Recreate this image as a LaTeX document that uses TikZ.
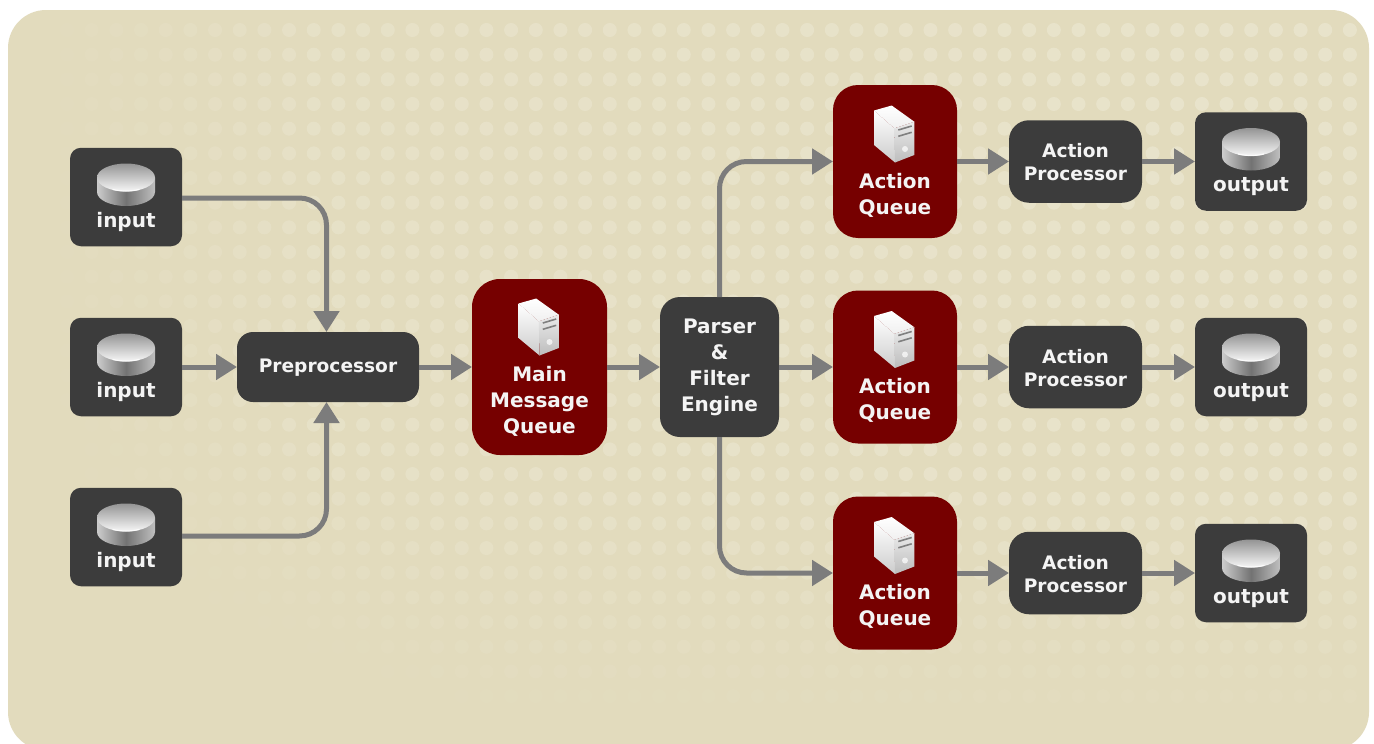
\documentclass[tikz,border=0pt]{standalone}
\usepackage{fontspec}
\setmainfont{DejaVu Sans}
\usetikzlibrary{arrows.meta}
\definecolor{bgc}{HTML}{E2DBBD}
\definecolor{dotc}{HTML}{E9E4CC}
\definecolor{darkbox}{HTML}{3C3C3C}
\definecolor{redbox}{HTML}{760000}
\definecolor{conn}{HTML}{7C7C7C}
\definecolor{labelc}{HTML}{F4F4F4}
\tikzset{
  ionode/.style={fill=darkbox,minimum width=112pt,minimum height=98.5pt,rounded corners=11pt,inner sep=0pt,outer sep=0pt},
  procnode/.style={fill=darkbox,inner sep=0pt,outer sep=0pt},
  queuenode/.style={fill=redbox,inner sep=0pt,outer sep=0pt},
  biglabel/.style={text=labelc,font=\fontsize{20}{25.8}\selectfont\bfseries,align=center,inner sep=0pt},
  smalllabel/.style={text=labelc,font=\fontsize{18.6}{23}\selectfont\bfseries,align=center,inner sep=0pt},
  link/.style={draw=conn,line width=5pt,rounded corners=27pt,-{Triangle[length=21pt,width=25pt]}}
}
\newcommand{\diskicon}[2]{%
  \begin{scope}[shift={(#1,#2)}]
    \shade[left color=black!20,right color=black!25,middle color=black!55]
      (-29,-19.5) -- (-29,-5) arc[start angle=180,end angle=0,x radius=29,y radius=14] -- (29,-19.5) -- cycle;
    \shade[top color=black!42,bottom color=black!3]
      (0,-19.5) ellipse[x radius=29,y radius=14];
    \draw[white,line width=1.2pt,opacity=.8] (-13,-7.5) .. controls (-5,-5.5) and (5,-5.5) .. (13,-7.5);
  \end{scope}}
\newcommand{\servericon}[2]{%
  \begin{scope}[shift={(#1,#2)}]
    \shade[top color=white,bottom color=black!20]
      (-21,-24) -- (-0.7,-6.2) -- (0,28) -- (-21,10.5) -- cycle;
    \shade[top color=white,bottom color=black!6]
      (-21,-24) -- (-3.3,-29) -- (19.3,-12.8) -- (-0.7,-6.2) -- cycle;
    \shade[top color=black!8,bottom color=black!26]
      (-0.7,-6.2) -- (19.3,-12.8) -- (19.3,20.5) -- (0,28) -- cycle;
    \draw[black!50,line width=1.6pt] (3.3,-4.5) -- (16.7,-8.5) (3.3,1.8) -- (16.7,-2.2);
    \fill[white,opacity=.7] (10,14.5) circle[radius=3];
  \end{scope}}
\begin{document}
\begin{tikzpicture}[x=1pt,y=-1pt]
\useasboundingbox (0,0) rectangle (1374,744);
\fill[white] (0,0) rectangle (1374,744);
\begin{scope}
  \path[clip,rounded corners=38pt] (8,10) rectangle (1369,750);
  \fill[bgc] (0,0) rectangle (1374,750);
  \foreach \i in {0,...,54}{
    \foreach \j in {0,...,28}{
      \pgfmathsetmacro{\px}{17.7+24.67*\i}
      \pgfmathsetmacro{\py}{30+24.67*\j}
      \pgfmathsetmacro{\yb}{min(735,560+0.36*\px)}
      \pgfmathsetmacro{\al}{max(0,min(1,(\yb-\py)/240))*min(1,max(0,(\px-20)/300))*(0.6+0.4*\px/1374)}
      \fill[dotc,fill opacity=\al] (\px,\py) circle[radius=7];
    }
  }
\end{scope}
% inputs
\node[ionode] (in1) at (126,197) {};
\node[ionode] (in2) at (126,367) {};
\node[ionode] (in3) at (126,537) {};
\node[procnode,minimum width=182pt,minimum height=70pt,rounded corners=16pt] (pre) at (328,367) {};
\node[queuenode,minimum width=135pt,minimum height=176pt,rounded corners=28pt] (mq) at (539.5,367) {};
\node[procnode,minimum width=119pt,minimum height=140pt,rounded corners=20pt] (pf) at (719.5,367) {};
\foreach \n/\y in {1/161.5,2/367,3/573}{
  \node[queuenode,minimum width=124pt,minimum height=153pt,rounded corners=25pt] (aq\n) at (895,\y) {};
  \node[procnode,minimum width=133pt,minimum height=82.5pt,rounded corners=20pt] (ap\n) at (1075.5,\y) {};
  \node[ionode] (out\n) at (1251,\y) {};
  \draw[link] (aq\n.east) -- (ap\n.west);
  \draw[link] (ap\n.east) -- (out\n.west);
}
% connectors
\draw[link] ([yshift=-1pt]in1.east) -| ([xshift=-1.5pt]pre.north);
\draw[link] (in2.east) -- (pre.west);
\draw[link] ([yshift=1pt]in3.east) -| ([xshift=-1.5pt]pre.south);
\draw[link] (pre.east) -- (mq.west);
\draw[link] (mq.east) -- (pf.west);
\draw[link] (pf.north) |- (aq1.west);
\draw[link] (pf.east) -- (aq2.west);
\draw[link] (pf.south) |- (aq3.west);
% icons
\diskicon{126}{197}\diskicon{126}{367}\diskicon{126}{537}
\diskicon{1251}{161.5}\diskicon{1251}{367}\diskicon{1251}{573}
\servericon{539.5}{327.5}
\servericon{895}{134.5}\servericon{895}{340}\servericon{895}{546}
% labels
\node[biglabel] (lin1) at (126,222) {input};
\node[biglabel] (lin2) at (126,392) {input};
\node[biglabel] (lin3) at (126,562) {input};
\node[smalllabel] (lpre) at (328,368) {Preprocessor};
\node[biglabel] (lmq) at (539.5,401.5) {Main\\Message\\Queue};
\node[biglabel] (lpf) at (719.5,367.5) {Parser\\\&\\Filter\\Engine};
\foreach \n/\y in {1/195,2/400.5,3/606}{
  \node[biglabel] (laq\n) at (895,\y) {Action\\Queue};
}
\foreach \n/\y in {1/162.5,2/368,3/574}{
  \node[smalllabel] (lap\n) at (1075.5,\y) {Action\\Processor};
}
\node[biglabel] (lo1) at (1251,187) {output};
\node[biglabel] (lo2) at (1251,392.5) {output};
\node[biglabel] (lo3) at (1251,598.5) {output};
\end{tikzpicture}
\end{document}
